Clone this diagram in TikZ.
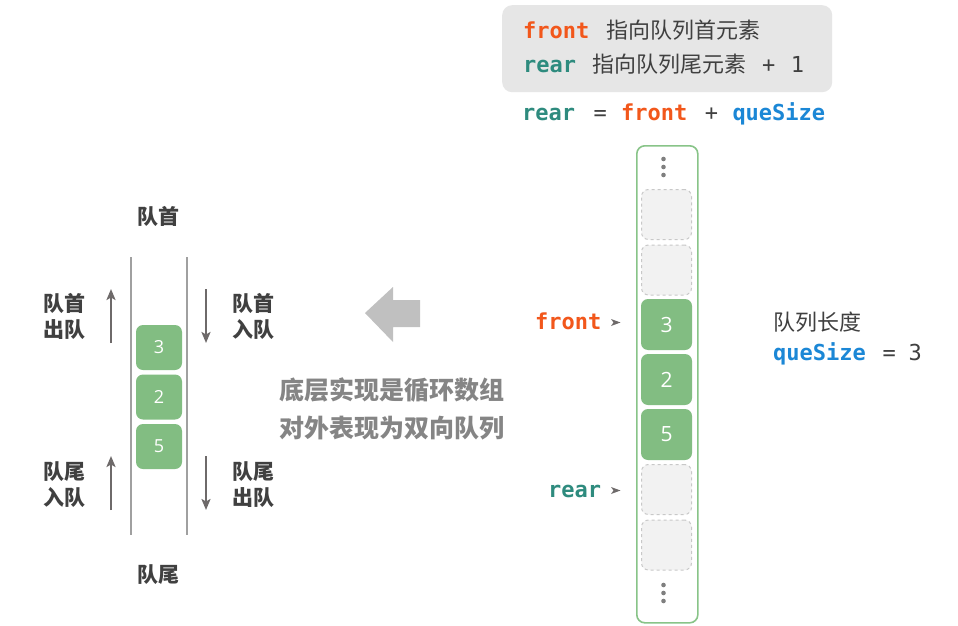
\documentclass[tikz,border=0pt]{standalone}
\usepackage{fontspec}
\setmonofont{DejaVu Sans Mono}
\newfontfamily\cjk{Noto Sans CJK SC}
\newfontfamily\numfont{Open Sans}
\usetikzlibrary{calc,arrows.meta}
\definecolor{cfront}{HTML}{F2571B}
\definecolor{crear}{HTML}{2E8B7E}
\definecolor{cqs}{HTML}{1B87D6}
\definecolor{cgreen}{HTML}{82BD82}
\definecolor{cgreenline}{HTML}{88C488}
\definecolor{ctext}{HTML}{404040}
\definecolor{cmid}{HTML}{858585}
\definecolor{cbox}{HTML}{E6E6E6}
\definecolor{cempty}{HTML}{F2F2F2}
\definecolor{cemptyline}{HTML}{C8C8C8}
\definecolor{cdot}{HTML}{7F7F7F}
\definecolor{carrow}{HTML}{6E6A6A}
\definecolor{cline}{HTML}{A0A0A0}
\definecolor{cbig}{HTML}{C0C0C0}
\newcommand{\cfr}{{\ttfamily\bfseries\color{cfront}front}}
\newcommand{\crr}{{\ttfamily\bfseries\color{crear}rear}}
\newcommand{\cqsz}{{\ttfamily\bfseries\color{cqs}queSize}}
\newcommand{\tts}[1]{{\ttfamily\color{ctext}\mbox{}#1}}
\begin{document}
\begin{tikzpicture}[x=1pt,y=-1pt,
  txt/.style={inner sep=0, text=ctext, font=\fontsize{22}{26}\selectfont},
  lbl/.style={inner sep=0, text=ctext, align=center, font=\cjk\bfseries\fontsize{21}{26}\selectfont},
  gcell/.style={fill=cgreen, rounded corners=7, minimum width=51, minimum height=51, inner sep=0, text=white, font=\numfont\fontsize{21}{24}\selectfont},
  ecell/.style={fill=cempty, draw=cemptyline, dashed, line width=1, rounded corners=7, minimum width=50, minimum height=50, inner sep=0},
  lcell/.style={fill=cgreen, rounded corners=7, minimum width=46, minimum height=45, inner sep=0, text=white, font=\numfont\fontsize{18}{20}\selectfont},
  qarrow/.style={draw=carrow, line width=2.4, -{Stealth[length=11,width=9,inset=2.5]}},
  ]
\useasboundingbox (0,0) rectangle (958,626);
\fill[white] (0,0) rectangle (958,626);

% top info box
\node[fill=cbox, rounded corners=10, minimum width=330, minimum height=87, inner sep=0, anchor=north west] (box) at (502,5) {};
\node[txt, anchor=base west] (l1) at (523,38) {\cfr\hspace{17pt}{\cjk 指向队列首元素}};
\node[txt, anchor=base west] (l2) at (523,72) {\crr\hspace{16pt}{\cjk 指向队列尾元素}\hspace{16pt}\tts{+}\hspace{15.5pt}\tts{1}};
\node[txt, anchor=base west] (l3) at (522,120) {\crr\hspace{18.4pt}\tts{=}\hspace{14.4pt}\cfr\hspace{17.4pt}\tts{+}\hspace{14.4pt}\cqsz};

% right column
\node[draw=cgreenline, line width=1.6, rounded corners=8, fill=white, minimum width=61, minimum height=477, inner sep=0, anchor=north west] (col) at (636,145) {};
\foreach \y in {159,167,175,585,593,601} \fill[cdot] (663.5,\y) circle (2.3);
\node[ecell] (e1) at (666.5,214.5) {};
\node[ecell] (e2) at (666.5,270) {};
\node[gcell] (c3) at (666.5,324.5) {3};
\node[gcell] (c2) at (666.5,379.5) {2};
\node[gcell] (c5) at (666.5,434.5) {5};
\node[ecell] (e3) at (666.5,489.5) {};
\node[ecell] (e4) at (666.5,545) {};

\node[txt, anchor=base west] (fl) at (535,329) {\cfr};
\node[txt, anchor=base west] (rl) at (548,497) {\crr};
\fill[carrow] (611,319) -- (620.5,322.5) -- (611,326) -- (613.5,322.5) -- cycle;
\fill[carrow] (611,487) -- (620.5,490.5) -- (611,494) -- (613.5,490.5) -- cycle;

\node[txt, anchor=base west] (len) at (773,330) {\cjk 队列长度};
\node[txt, anchor=base west] (qs) at (773,360) {\cqsz\hspace{16.7pt}\tts{=}\hspace{12.8pt}\tts{3}};

% big arrow
\fill[cbig] (365,313) -- (393,287) -- (393,300) -- (420,300) -- (420,327) -- (393,327) -- (393,342) -- cycle;
\node[inner sep=0, text=cmid, font=\cjk\bfseries\fontsize{25}{30}\selectfont] (m1) at (392,390) {底层实现是循环数组};
\node[inner sep=0, text=cmid, font=\cjk\bfseries\fontsize{25}{30}\selectfont] (m2) at (392,428) {对外表现为双向队列};

% left deque
\draw[cline, line width=1.3] (131,257) -- (131,535);
\draw[cline, line width=1.3] (187,257) -- (187,535);
\node[lcell] (d3) at (159,347.5) {3};
\node[lcell] (d2) at (159,397) {2};
\node[lcell] (d5) at (159,446.5) {5};

\node[lbl] (head) at (158,216) {队首};
\node[lbl] (tail) at (158,575) {队尾};
\node[lbl] (hout) at (64,316) {队首\\出队};
\node[lbl] (hin) at (253,316) {队首\\入队};
\node[lbl] (tin) at (64,484.5) {队尾\\入队};
\node[lbl] (tout) at (253,484.5) {队尾\\出队};

\coordinate (a1s) at (111,343); \coordinate (a1e) at (111,289);
\coordinate (a2s) at (206,289); \coordinate (a2e) at (206,343);
\coordinate (a3s) at (111,510); \coordinate (a3e) at (111,456);
\coordinate (a4s) at (206,456); \coordinate (a4e) at (206,510);
\draw[qarrow] (a1s) -- (a1e);
\draw[qarrow] (a2s) -- (a2e);
\draw[qarrow] (a3s) -- (a3e);
\draw[qarrow] (a4s) -- (a4e);
\end{tikzpicture}
\end{document}
